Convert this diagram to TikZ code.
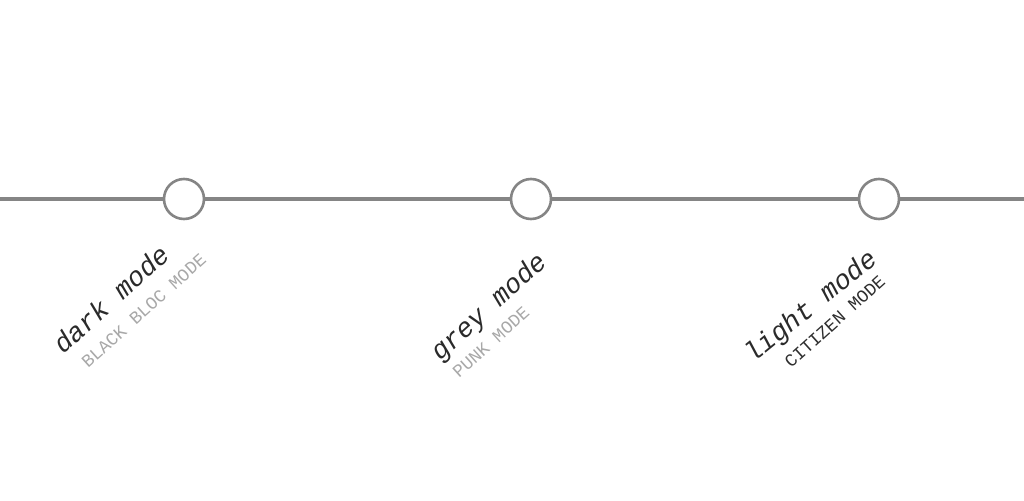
\documentclass[tikz,border=0pt]{standalone}
\usepackage{fontspec}
\newfontfamily\monofont{Liberation Mono}
\definecolor{linegray}{HTML}{858585}
\definecolor{maintext}{HTML}{2A2A2A}
\definecolor{subgray}{HTML}{A8A8A8}
\definecolor{subdark}{HTML}{2E2E2E}
\begin{document}
\begin{tikzpicture}[x=1pt,y=-1pt,
  stop/.style={circle,draw=linegray,line width=2.6pt,fill=white,minimum size=40pt,inner sep=0pt},
  rail/.style={draw=linegray,line width=3.2pt},
  mainlabel/.style={anchor=base west,inner sep=0pt,rotate=42,text=maintext,font=\monofont\itshape\fontsize{27}{30}\selectfont},
  sublabel/.style={anchor=base west,inner sep=0pt,rotate=42,font=\monofont\fontsize{17.8}{20}\selectfont}]
\useasboundingbox (0,0) rectangle (1024,500);
\coordinate (L) at (0,199);
\coordinate (R) at (1024,199);
\node[stop] (c1) at (184,199) {};
\node[stop] (c2) at (531,199) {};
\node[stop] (c3) at (879,199) {};
\draw[rail] (L) -- (c1) (c1) -- (c2) (c2) -- (c3) (c3) -- (R);
\node[mainlabel] (m1) at (63,355) {dark mode};
\node[sublabel,text=subgray] (s1) at (88,369) {BLACK BLOC MODE};
\node[mainlabel] (m2) at (440,362) {grey mode};
\node[sublabel,text=subgray] (s2) at (459,379) {PUNK MODE};
\node[mainlabel,rotate=-3] (m3) at (753,364) {light mode};
\node[sublabel,text=subdark] (s3) at (791,369) {CITIZEN MODE};
\end{tikzpicture}
\end{document}
